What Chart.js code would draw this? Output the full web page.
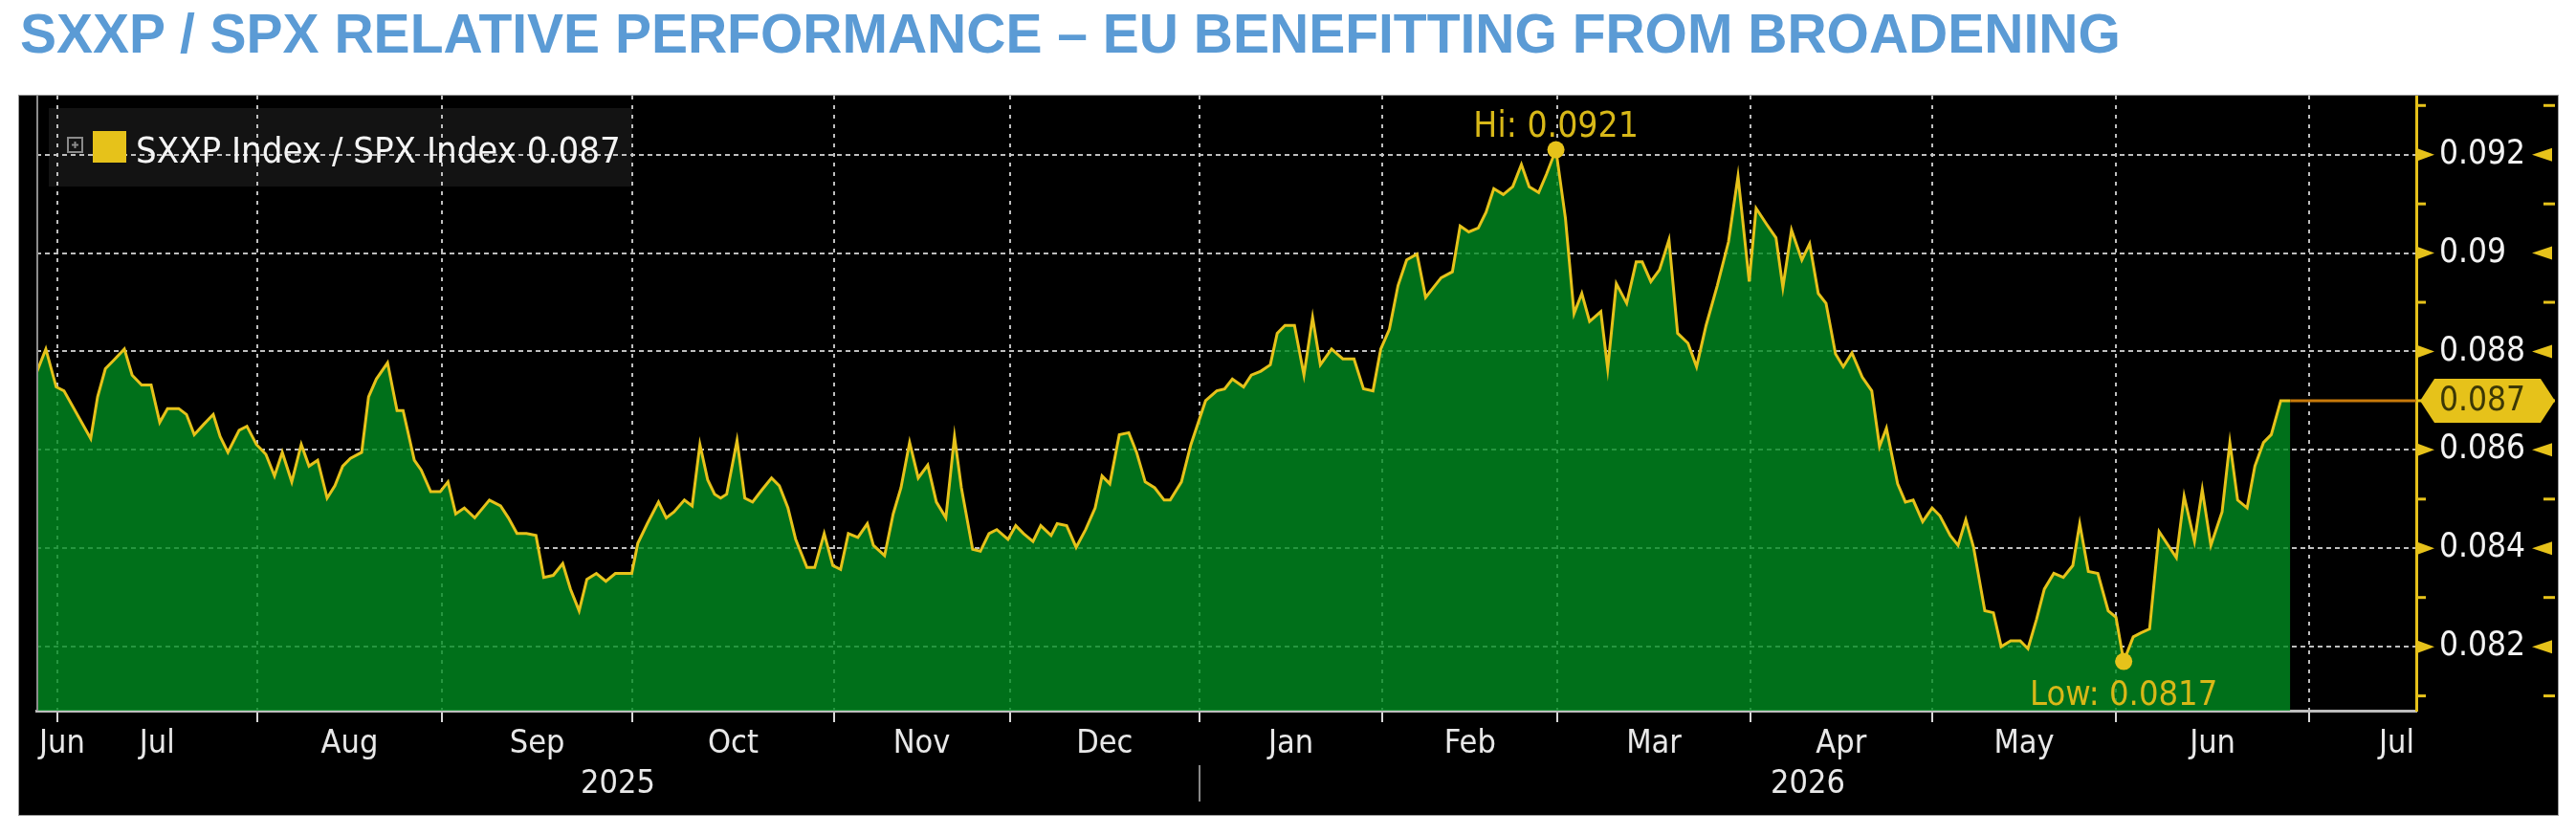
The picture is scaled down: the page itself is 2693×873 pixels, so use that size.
<!DOCTYPE html>
<html>
<head>
<meta charset="utf-8">
<script src="https://cdn.jsdelivr.net/npm/chart.js@4.4.1/dist/chart.umd.min.js"></script>
<style>
    html, body { margin: 0; padding: 0; background: #fff; }
    body { width: 2693px; height: 873px; position: relative; overflow: hidden; }
    #title {
        position: absolute; left: 21px; top: 7px; white-space: nowrap;
        font: bold 57px/57px "Liberation Sans", Arial, sans-serif; color: #5b9bd5;
    }
    #panel {
        position: absolute; left: 20px; top: 100px; width: 2654px; height: 752px;
        background: #000; box-shadow: 0 0 0 1px #9a9a9a;
    }
    canvas { display: block; }
</style>
</head>
<body>
<div id="title">SXXP / SPX RELATIVE PERFORMANCE – EU BENEFITTING FROM BROADENING</div>
<div id="panel"><canvas id="chartRatio" width="2654" height="752"></canvas></div>
<script>
const seriesLabel = 'SXXP Index / SPX Index'

// trading-day position of each turning point (0 = first day shown, late Jun 2025)
const dayIdx = [
    0.0, 1.1, 2.3, 3.2, 6.3, 7.1, 8.0, 8.9, 10.2, 11.1, 12.2, 13.3, 14.3, 15.2, 16.5, 17.4, 18.3, 19.4, 20.5, 21.3,
    22.2, 23.5, 24.4, 25.5, 26.6, 27.6, 28.5, 29.6, 30.7, 31.6, 32.6, 33.7, 34.6, 35.5, 36.4, 37.7, 38.5, 39.4, 40.7, 41.8,
    42.5, 43.8, 44.6, 45.7, 46.8, 47.7, 48.6, 49.6, 50.8, 52.5, 53.8, 54.7, 55.7, 56.8, 57.9, 58.8, 59.9, 61.0, 61.9, 62.9,
    63.8, 64.9, 66.0, 67.1, 69.0, 69.7, 70.8, 72.1, 73.0, 73.9, 75.1, 76.0, 76.9, 77.8, 78.6, 79.3, 80.0, 81.2, 82.1, 83.0,
    84.1, 85.2, 86.1, 87.1, 88.0, 89.3, 90.2, 91.3, 92.3, 93.2, 94.1, 95.2, 96.3, 97.0, 98.3, 99.3, 100.2, 101.2, 102.2, 103.3,
    104.3, 105.4, 106.4, 107.2, 108.5, 109.4, 110.4, 111.3, 112.6, 113.5, 114.4, 115.5, 116.4, 117.6, 118.3, 119.4, 120.5, 121.6, 122.7, 123.5,
    124.4, 125.5, 126.6, 127.5, 128.5, 129.6, 130.7, 131.4, 132.7, 133.8, 135.5, 136.8, 137.7, 138.6, 139.9, 140.8, 141.9, 143.0, 143.8, 144.7,
    145.8, 146.9, 147.9, 148.8, 150.1, 151.4, 152.7, 153.8, 154.9, 155.8, 156.8, 157.8, 158.8, 160.0, 161.0, 161.9, 162.8, 164.1, 165.0, 166.0,
    167.1, 168.0, 168.9, 170.0, 171.1, 172.1, 173.0, 174.1, 175.0, 176.1, 177.2, 178.2, 179.1, 180.0, 181.3, 182.1, 183.1, 184.3, 185.4, 186.1,
    187.1, 188.1, 189.2, 190.2, 191.4, 192.4, 193.5, 194.8, 196.1, 197.2, 198.5, 199.3, 200.5, 201.6, 202.4, 203.4, 204.6, 205.5, 206.5, 207.4,
    208.5, 209.4, 210.4, 211.6, 212.7, 213.6, 214.4, 215.7, 216.6, 217.5, 218.6, 219.7, 220.6, 221.8, 222.7, 223.6, 224.5, 225.8, 226.8, 227.7,
    228.8, 229.9, 230.8, 231.8, 232.7, 233.8, 234.9, 236.0, 236.8, 237.8, 238.9, 240.1, 241.0, 241.9, 243.0, 243.9, 244.9, 246.0, 246.9, 248.0,
    248.9, 250.1, 251.0, 252.0, 253.3, 254.2, 255.1, 256.2, 257.1, 258.1, 259.0, 260.1, 261.2,
]
const ratio = [
    0.08756, 0.08805, 0.08728, 0.08720, 0.08623, 0.08708, 0.08765, 0.08781, 0.08805, 0.08752, 0.08732, 0.08732, 0.08656, 0.08684, 0.08684, 0.08672, 0.08631, 0.08652, 0.08672, 0.08627,
    0.08595, 0.08640, 0.08648, 0.08611, 0.08591, 0.08547, 0.08595, 0.08535, 0.08611, 0.08567, 0.08579, 0.08502, 0.08527, 0.08567, 0.08583, 0.08595, 0.08708, 0.08744, 0.08777, 0.08680,
    0.08680, 0.08579, 0.08559, 0.08515, 0.08515, 0.08535, 0.08470, 0.08482, 0.08462, 0.08498, 0.08486, 0.08462, 0.08430, 0.08430, 0.08426, 0.08341, 0.08345, 0.08369, 0.08317, 0.08273,
    0.08337, 0.08349, 0.08333, 0.08349, 0.08349, 0.08410, 0.08450, 0.08494, 0.08462, 0.08474, 0.08498, 0.08486, 0.08611, 0.08539, 0.08510, 0.08502, 0.08510, 0.08619, 0.08502, 0.08494,
    0.08519, 0.08543, 0.08527, 0.08482, 0.08418, 0.08361, 0.08361, 0.08430, 0.08365, 0.08357, 0.08430, 0.08422, 0.08450, 0.08406, 0.08385, 0.08470, 0.08523, 0.08615, 0.08543, 0.08569,
    0.08494, 0.08462, 0.08627, 0.08523, 0.08398, 0.08394, 0.08430, 0.08438, 0.08418, 0.08446, 0.08430, 0.08414, 0.08446, 0.08426, 0.08450, 0.08446, 0.08402, 0.08438, 0.08482, 0.08547,
    0.08531, 0.08631, 0.08635, 0.08595, 0.08535, 0.08523, 0.08498, 0.08498, 0.08535, 0.08611, 0.08700, 0.08720, 0.08724, 0.08744, 0.08728, 0.08752, 0.08760, 0.08773, 0.08837, 0.08853,
    0.08853, 0.08752, 0.08869, 0.08773, 0.08805, 0.08785, 0.08785, 0.08724, 0.08720, 0.08805, 0.08845, 0.08934, 0.08986, 0.08998, 0.08910, 0.08930, 0.08950, 0.08962, 0.09055, 0.09043,
    0.09051, 0.09083, 0.09131, 0.09119, 0.09135, 0.09180, 0.09135, 0.09123, 0.09160, 0.09210, 0.09071, 0.08877, 0.08918, 0.08861, 0.08881, 0.08765, 0.08938, 0.08898, 0.08982, 0.08982,
    0.08942, 0.08966, 0.09027, 0.08837, 0.08817, 0.08769, 0.08853, 0.08934, 0.09023, 0.09156, 0.08942, 0.09091, 0.09059, 0.09031, 0.08930, 0.09047, 0.08986, 0.09019, 0.08918, 0.08898,
    0.08795, 0.08769, 0.08797, 0.08748, 0.08720, 0.08607, 0.08644, 0.08531, 0.08494, 0.08498, 0.08454, 0.08482, 0.08466, 0.08426, 0.08406, 0.08458, 0.08402, 0.08273, 0.08269, 0.08200,
    0.08212, 0.08212, 0.08196, 0.08256, 0.08317, 0.08349, 0.08341, 0.08365, 0.08450, 0.08353, 0.08349, 0.08273, 0.08260, 0.08170, 0.08220, 0.08228, 0.08236, 0.08434, 0.08410, 0.08381,
    0.08506, 0.08414, 0.08519, 0.08406, 0.08474, 0.08615, 0.08498, 0.08482, 0.08567, 0.08615, 0.08631, 0.08700, 0.08700,
]

// where each month starts on the trading-day axis
const monthStarts = [2.4, 25.6, 47.0, 69.1, 92.4, 112.8, 134.8, 156.0, 176.3, 198.6, 219.7, 241.0, 263.4]
const monthNames = ['Jun', 'Jul', 'Aug', 'Sep', 'Oct', 'Nov', 'Dec', 'Jan', 'Feb', 'Mar', 'Apr', 'May', 'Jun', 'Jul']
const yearNames = ['2025', '2026']
const yearBreak = 134.8

const yTicks = [0.082, 0.084, 0.086, 0.088, 0.09, 0.092]
const yTickLabels = ['0.082', '0.084', '0.086', '0.088', '0.09', '0.092']
const yMinorTicks = [0.081, 0.083, 0.085, 0.087, 0.089, 0.091, 0.093]

const YELLOW = '#e6c21a'
const GRID = 'rgba(200,200,200,0.95)'
const FONT = '"DejaVu Sans Condensed", "DejaVu Sans", sans-serif'

const bbgDecor = {
    id: 'bbgDecor',
    beforeDraw(chart) {
        // legend plate sits under the grid
        const ctx = chart.ctx
        ctx.save()
        ctx.fillStyle = '#131313'
        ctx.fillRect(31, 13, 610, 82)
        ctx.restore()
    },
    afterDraw(chart) {
        const ctx = chart.ctx
        const xs = chart.scales.x
        const ys = chart.scales.y
        const area = chart.chartArea
        ctx.save()

        // left frame of plot
        ctx.strokeStyle = '#8c8c8c'
        ctx.lineWidth = 2
        ctx.beginPath()
        ctx.moveTo(area.left + 1, area.top)
        ctx.lineTo(area.left + 1, area.bottom)
        ctx.stroke()

        // right axis decorations: minor dashes and arrow heads
        ctx.fillStyle = YELLOW
        yMinorTicks.forEach(v => {
            const y = ys.getPixelForValue(v)
            ctx.fillRect(area.right, y - 1.5, 10, 3)
            ctx.fillRect(area.right + 133, y - 1.5, 12, 3)
        })
        yTicks.forEach(v => {
            const y = ys.getPixelForValue(v)
            ctx.beginPath()
            ctx.moveTo(area.right, y - 7)
            ctx.lineTo(area.right + 19, y)
            ctx.lineTo(area.right, y + 7)
            ctx.closePath()
            ctx.fill()
            ctx.beginPath()
            ctx.moveTo(area.right + 142, y - 7)
            ctx.lineTo(area.right + 121, y)
            ctx.lineTo(area.right + 142, y + 7)
            ctx.closePath()
            ctx.fill()
        })

        // last value line and badge
        const last = ratio[ratio.length - 1]
        const lastTxt = last.toFixed(3)
        const lx = xs.getPixelForValue(dayIdx[dayIdx.length - 1])
        const ly = ys.getPixelForValue(last)
        ctx.strokeStyle = '#c87a0a'
        ctx.lineWidth = 3
        ctx.beginPath()
        ctx.moveTo(lx, ly)
        ctx.lineTo(area.right, ly)
        ctx.stroke()

        const bx = area.right + 4
        ctx.fillStyle = YELLOW
        ctx.beginPath()
        ctx.moveTo(bx, ly)
        ctx.lineTo(bx + 15, ly - 23)
        ctx.lineTo(bx + 126, ly - 23)
        ctx.lineTo(bx + 141, ly)
        ctx.lineTo(bx + 126, ly + 23)
        ctx.lineTo(bx + 15, ly + 23)
        ctx.closePath()
        ctx.fill()
        ctx.fillStyle = '#3c3806'
        ctx.font = '35px ' + FONT
        ctx.textAlign = 'left'
        ctx.textBaseline = 'middle'
        ctx.fillText(lastTxt, area.right + 24, ly + 1)

        // hi / low markers
        let hi = 0, lo = 0
        ratio.forEach((v, i) => {
            if (v > ratio[hi]) hi = i
            if (v < ratio[lo]) lo = i
        })
        ctx.textAlign = 'center'
        ctx.textBaseline = 'alphabetic'
        ctx.font = '37px ' + FONT
        const hx = xs.getPixelForValue(dayIdx[hi]), hy = ys.getPixelForValue(ratio[hi])
        const qx = xs.getPixelForValue(dayIdx[lo]), qy = ys.getPixelForValue(ratio[lo])
        ctx.fillStyle = YELLOW
        ctx.beginPath(); ctx.arc(hx, hy, 9, 0, Math.PI * 2); ctx.fill()
        ctx.beginPath(); ctx.arc(qx, qy, 9, 0, Math.PI * 2); ctx.fill()
        ctx.fillStyle = '#d8b818'
        ctx.fillText('Hi: ' + ratio[hi].toFixed(4), hx, hy - 14)
        ctx.font = '36px ' + FONT
        ctx.fillText('Low: ' + ratio[lo].toFixed(4), qx, qy + 45)

        // legend
        ctx.strokeStyle = '#8a8a8a'
        ctx.lineWidth = 2
        ctx.strokeRect(51, 44, 15, 15)
        ctx.beginPath()
        ctx.moveTo(55, 51.5); ctx.lineTo(62, 51.5)
        ctx.moveTo(58.5, 48); ctx.lineTo(58.5, 55)
        ctx.stroke()
        ctx.fillStyle = YELLOW
        ctx.fillRect(77, 37, 35, 33)
        ctx.fillStyle = '#f4f4f4'
        ctx.font = '38px ' + FONT
        ctx.textAlign = 'left'
        ctx.fillText(seriesLabel + ' ' + lastTxt, 122, 70)

        // month labels centred in each month
        const edges = [xs.min, ...monthStarts, xs.max]
        ctx.font = '34px ' + FONT
        ctx.fillStyle = '#e8e8e8'
        monthNames.forEach((name, i) => {
            const a = xs.getPixelForValue(edges[i])
            const b = xs.getPixelForValue(edges[i + 1])
            const w = ctx.measureText(name).width
            let x = (a + b) / 2 - w / 2
            if (i === monthNames.length - 1) x = area.right - 2 - w
            x = Math.max(area.left + 3, x)
            ctx.fillText(name, x, area.bottom + 44)
        })

        // year row
        const yb = xs.getPixelForValue(yearBreak)
        ctx.textAlign = 'center'
        ctx.fillText(yearNames[0], (area.left + yb) / 2, area.bottom + 86)
        ctx.fillText(yearNames[1], (yb + area.right) / 2, area.bottom + 86)
        ctx.strokeStyle = '#8a8a8a'
        ctx.lineWidth = 2
        ctx.beginPath()
        ctx.moveTo(yb, area.bottom + 57)
        ctx.lineTo(yb, area.bottom + 95)
        ctx.stroke()

        ctx.restore()
    },
}

const points = dayIdx.map((d, i) => ({ x: d, y: ratio[i] }))

const config = {
    type: 'line',
    data: {
        datasets: [
            {
                label: seriesLabel,
                data: points,
                borderColor: YELLOW,
                borderWidth: 3,
                backgroundColor: 'rgba(0,140,32,0.8)',
                fill: 'start',
                pointRadius: 0,
                tension: 0,
            },
        ],
    },
    options: {
        responsive: false,
        animation: false,
        layout: { padding: { left: 18, top: 0, right: 0, bottom: 0 } },
        plugins: { legend: { display: false }, tooltip: { enabled: false } },
        scales: {
            x: {
                type: 'linear',
                min: 0,
                max: 275.8,
                afterBuildTicks: s => { s.ticks = monthStarts.map(v => ({ value: v })) },
                afterFit: s => { s.height = 109; s.paddingLeft = 0; s.paddingRight = 0 },
                ticks: { display: false },
                grid: { color: GRID, lineWidth: 2, tickLength: 12, tickColor: '#d8d8d8', tickWidth: 2 },
                border: { color: '#bdbdbd', width: 3, dash: [4, 6] },
            },
            y: {
                position: 'right',
                min: 0.0807,
                max: 0.0932,
                afterBuildTicks: s => { s.ticks = yTicks.map(v => ({ value: v })) },
                afterFit: s => { s.width = 148; s.paddingTop = 0; s.paddingBottom = 0 },
                ticks: {
                    color: '#f2f2f2',
                    padding: 24,
                    font: { family: FONT, size: 35 },
                    callback: (v, i) => yTickLabels[i],
                },
                grid: { color: GRID, lineWidth: 2, drawTicks: false },
                border: { color: YELLOW, width: 3, dash: [5, 4] },
            },
        },
    },
    plugins: [bbgDecor],
}

new Chart(document.getElementById('chartRatio'), config)
</script>
</body>
</html>
